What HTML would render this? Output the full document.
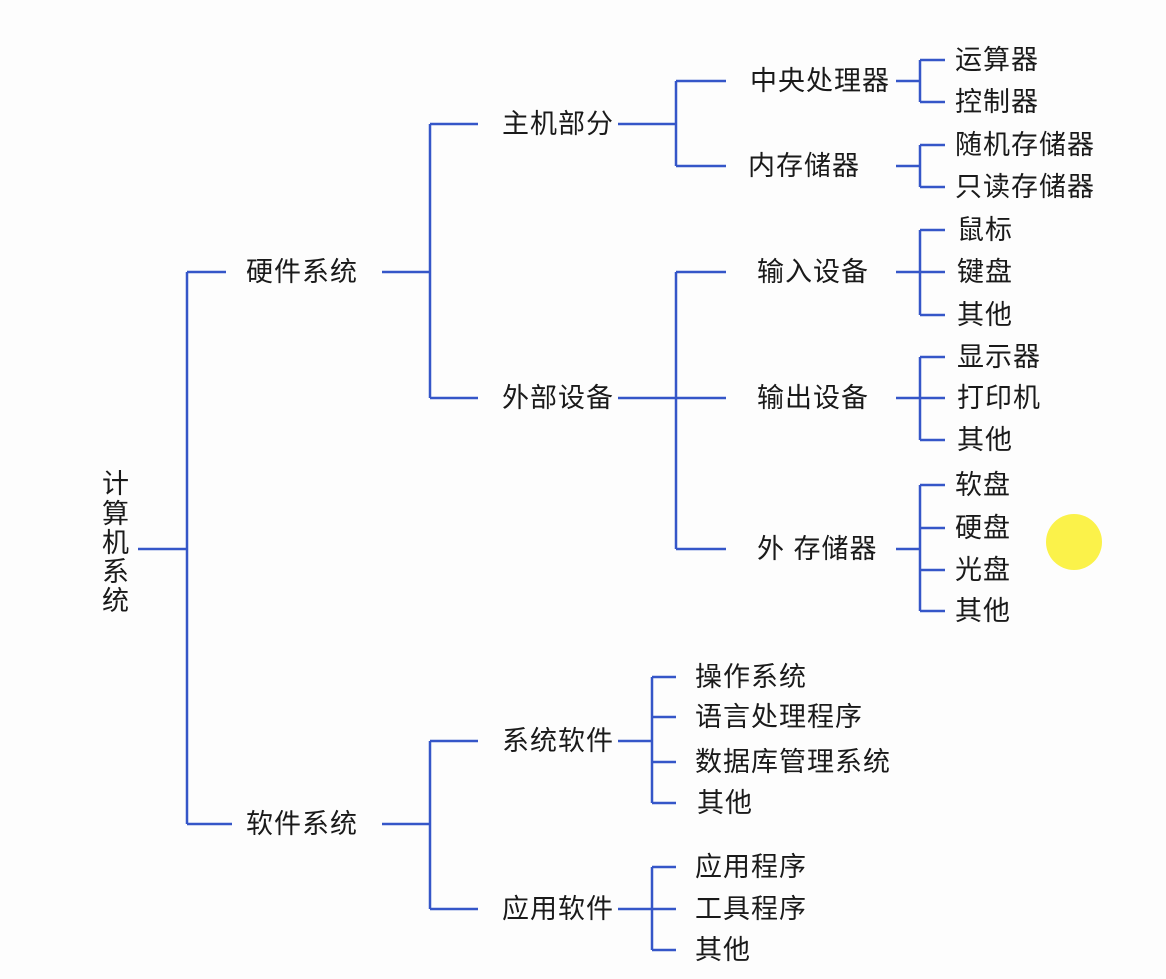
<!DOCTYPE html>
<html><head><meta charset="utf-8"><style>
html,body{margin:0;padding:0;background:#fdfdfd;}
svg text{font-family:"Liberation Sans","Noto Sans CJK SC",sans-serif;font-size:27px;fill:#1a1a1a;dominant-baseline:central;letter-spacing:1px;}
</style></head><body>
<svg width="1166" height="974" viewBox="0 0 1166 974" xmlns="http://www.w3.org/2000/svg">
<g stroke="#3556c8" stroke-width="2.5" fill="none">
<path d="M138 549H187M187 272V824M187 272H226M187 824H232"/>
<path d="M382 272H430M430 124V398M430 124H478M430 398H478"/>
<path d="M382 824H430M430 741V909M430 741H478M430 909H478"/>
<path d="M618 124H676M676 81V166M676 81H726M676 166H726"/>
<path d="M618 398H726M676 272V549M676 272H726M676 549H726"/>
<path d="M896 81H920M920 60V102M920 60H945M920 102H945"/>
<path d="M896 166H920M920 145V187M920 145H945M920 187H945"/>
<path d="M896 272H945M920 230V315M920 230H945M920 315H945"/>
<path d="M896 398H945M920 357V440M920 357H945M920 440H945"/>
<path d="M896 549H920M920 485V611M920 485H945M920 528H945M920 570H945M920 611H945"/>
<path d="M618 741H652M652 677V803M652 677H676M652 717H676M652 762H676M652 803H676"/>
<path d="M618 909H676M652 867V950M652 867H676M652 950H676"/>
</g>
<text x="102" y="484">计</text>
<text x="102" y="514">算</text>
<text x="102" y="543">机</text>
<text x="102" y="572">系</text>
<text x="102" y="601">统</text>
<text x="246" y="272">硬件系统</text>
<text x="246" y="824">软件系统</text>
<text x="502" y="124">主机部分</text>
<text x="502" y="398">外部设备</text>
<text x="502" y="741">系统软件</text>
<text x="502" y="909">应用软件</text>
<text x="750" y="81">中央处理器</text>
<text x="748" y="166">内存储器</text>
<text x="757" y="272">输入设备</text>
<text x="757" y="398">输出设备</text>
<text x="757" y="549">外 存储器</text>
<text x="955" y="60">运算器</text>
<text x="955" y="102">控制器</text>
<text x="955" y="145">随机存储器</text>
<text x="955" y="187">只读存储器</text>
<text x="957" y="230">鼠标</text>
<text x="957" y="272">键盘</text>
<text x="957" y="315">其他</text>
<text x="957" y="357">显示器</text>
<text x="957" y="398">打印机</text>
<text x="957" y="440">其他</text>
<text x="955" y="485">软盘</text>
<text x="955" y="528">硬盘</text>
<text x="955" y="570">光盘</text>
<text x="955" y="611">其他</text>
<text x="695" y="677">操作系统</text>
<text x="695" y="717">语言处理程序</text>
<text x="695" y="762">数据库管理系统</text>
<text x="697" y="803">其他</text>
<text x="695" y="867">应用程序</text>
<text x="695" y="909">工具程序</text>
<text x="695" y="950">其他</text>
<circle cx="1074" cy="542" r="28" fill="#fbf24a"/>
</svg>
</body></html>
